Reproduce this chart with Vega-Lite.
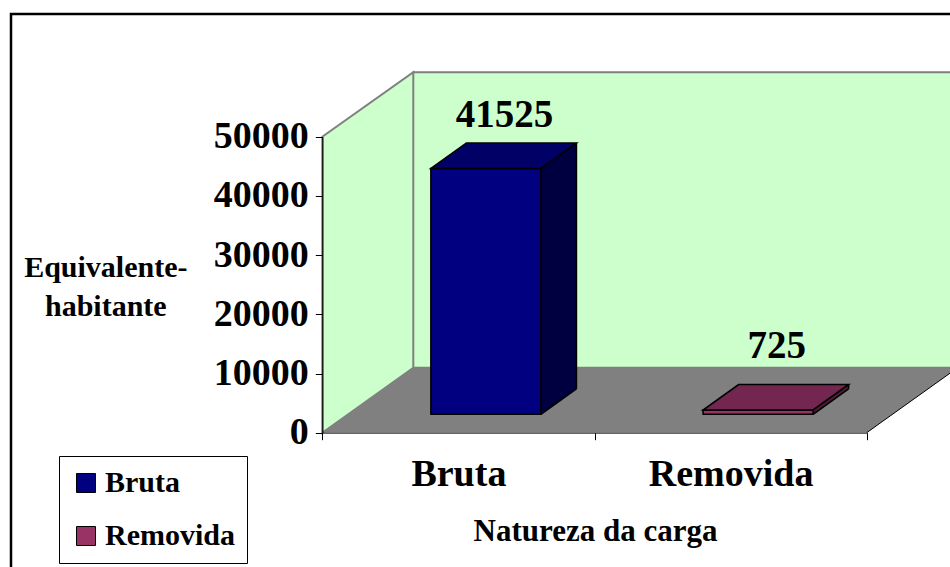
{
  "$schema": "https://vega.github.io/schema/vega-lite/v6.json",
  "width": 941,
  "height": 555,
  "autosize": {"type": "none"},
  "padding": {"left": 11, "top": 14, "right": -2, "bottom": -2},
  "background": "white",
  "config": {
    "view": {"stroke": "black", "strokeWidth": 2.5},
    "font": "Liberation Serif"
  },
  "data": {
    "values": [
      {"carga": "Bruta", "valor": 41525},
      {"carga": "Removida", "valor": 725}
    ]
  },
  "encoding": {
    "x": {
      "field": "carga",
      "type": "nominal",
      "sort": ["Bruta", "Removida"],
      "scale": {"range": [311.3, 855.7], "paddingInner": 0, "paddingOuter": 0},
      "axis": {
        "orient": "bottom",
        "offset": -136.3,
        "zindex": 1,
        "labelAngle": 0,
        "tickBand": "extent",
        "tickSize": 7,
        "tickColor": "black",
        "domainColor": "#222222",
        "domainWidth": 1,
        "labelFont": "Liberation Serif",
        "labelFontWeight": "bold",
        "labelFontSize": 38,
        "labelColor": "black",
        "labelPadding": 16,
        "title": "Natureza da carga",
        "titleFont": "Liberation Serif",
        "titleFontWeight": "bold",
        "titleFontSize": 31,
        "titleColor": "black",
        "titleX": 584,
        "titleY": 108,
        "titleAlign": "center",
        "titleBaseline": "alphabetic"
      }
    },
    "y": {
      "field": "valor",
      "type": "quantitative",
      "scale": {"domain": [0, 50000], "range": [418.7, 122.7], "nice": false},
      "axis": {
        "orient": "left",
        "offset": -311.3,
        "zindex": 1,
        "values": [0, 10000, 20000, 30000, 40000, 50000],
        "format": "d",
        "grid": false,
        "tickSize": 7,
        "tickColor": "black",
        "domainColor": "black",
        "domainWidth": 1.2,
        "labelFont": "Liberation Serif",
        "labelFontWeight": "bold",
        "labelFontSize": 38,
        "labelColor": "black",
        "labelPadding": 7,
        "title": ["Equivalente-", "habitante"],
        "titleFont": "Liberation Serif",
        "titleFontWeight": "bold",
        "titleFontSize": 30,
        "titleColor": "black",
        "titleAngle": 0,
        "titleX": -217,
        "titleY": 262,
        "titleAlign": "center",
        "titleBaseline": "alphabetic",
        "titleLineHeight": 39
      }
    }
  },
  "layer": [
    {
      "transform": [{"filter": "datum.carga === 'Bruta'"}],
      "mark": {
        "type": "point",
        "shape": "M-136.1,0 L-136.1,-296 L-45.1,-360.4 L-45.1,-65 Z M-45.1,-65 L-45.1,-360.4 L530,-360.4 L530,-65 Z",
        "size": 4,
        "filled": true,
        "fill": "#CCFFCC",
        "stroke": "#808080",
        "strokeWidth": 2,
        "opacity": 1
      },
      "encoding": {"y": {"datum": 0, "type": "quantitative"}}
    },
    {
      "transform": [{"filter": "datum.carga === 'Bruta'"}],
      "mark": {
        "type": "point",
        "shape": "M-136.1,0 L408.3,0 L499.3,-65 L-45.1,-65 Z",
        "size": 4,
        "filled": true,
        "fill": "#808080",
        "opacity": 1
      },
      "encoding": {"y": {"datum": 0, "type": "quantitative"}}
    },
    {
      "transform": [{"filter": "datum.carga === 'Bruta'"}],
      "mark": {
        "type": "point",
        "shape": "M408.3,0 L499.3,-65",
        "size": 4,
        "filled": false,
        "stroke": "black",
        "strokeWidth": 1,
        "opacity": 1
      },
      "encoding": {"y": {"datum": 0, "type": "quantitative"}}
    },
    {
      "mark": {
        "type": "bar",
        "width": 35.5,
        "xOffset": 100.25,
        "yOffset": -43.9,
        "y2Offset": -18.4,
        "opacity": 1
      },
      "encoding": {
        "y2": {"datum": 0},
        "fill": {"condition": {"test": "datum.carga === 'Bruta'", "value": "#000040"}, "value": "#4D1A33"}
      }
    },
    {
      "mark": {
        "type": "point",
        "shape": "M53.6,1 L92,1 L92,-26.6 Z",
        "size": 4,
        "filled": true,
        "fill": "#808080",
        "xOffset": 27.5,
        "yOffset": -18.4,
        "opacity": 1
      },
      "encoding": {"y": {"datum": 0, "type": "quantitative"}}
    },
    {
      "mark": {
        "type": "bar",
        "width": 110,
        "xOffset": 27.5,
        "yOffset": -18.4,
        "y2Offset": -18.4,
        "stroke": "black",
        "strokeWidth": 1.6,
        "opacity": 1
      },
      "encoding": {
        "y2": {"datum": 0},
        "color": {
          "field": "carga",
          "type": "nominal",
          "scale": {"domain": ["Bruta", "Removida"], "range": ["#000080", "#993366"]},
          "legend": {
            "orient": "none",
            "legendX": 48,
            "legendY": 442,
            "title": null,
            "symbolType": "square",
            "symbolSize": 361,
            "symbolStrokeColor": "black",
            "symbolStrokeWidth": 1,
            "labelFont": "Liberation Serif",
            "labelFontWeight": "bold",
            "labelFontSize": 30,
            "labelColor": "black",
            "labelOffset": 4,
            "labelLimit": 300,
            "rowPadding": 23,
            "padding": 12,
            "strokeColor": "black",
            "fillColor": "white"
          }
        }
      }
    },
    {
      "mark": {
        "type": "point",
        "shape": "M-55,0 L55,0 L90.5,-25.5 L-19.5,-25.5 Z",
        "size": 4,
        "filled": true,
        "stroke": "black",
        "strokeWidth": 1.6,
        "xOffset": 27.5,
        "yOffset": -18.4,
        "opacity": 1
      },
      "encoding": {
        "fill": {"condition": {"test": "datum.carga === 'Bruta'", "value": "#000066"}, "value": "#732650"}
      }
    },
    {
      "mark": {
        "type": "rule",
        "xOffset": 118,
        "yOffset": -43.9,
        "y2Offset": -43.9,
        "stroke": "black",
        "strokeWidth": 1.6
      },
      "encoding": {"y2": {"datum": 0}}
    },
    {
      "mark": {
        "type": "point",
        "shape": "M55,0 L90.5,-25.5",
        "size": 4,
        "filled": false,
        "stroke": "black",
        "strokeWidth": 1.6,
        "xOffset": 27.5,
        "yOffset": -18.4,
        "opacity": 1
      },
      "encoding": {"y": {"datum": 0, "type": "quantitative"}}
    },
    {
      "transform": [{"filter": "datum.carga === 'Bruta'"}],
      "mark": {
        "type": "text",
        "font": "Liberation Serif",
        "fontWeight": "bold",
        "fontSize": 39,
        "color": "black",
        "align": "center",
        "baseline": "alphabetic",
        "dx": 46.1,
        "dy": -59.4
      },
      "encoding": {"text": {"field": "valor", "type": "nominal"}}
    },
    {
      "transform": [{"filter": "datum.carga === 'Removida'"}],
      "mark": {
        "type": "text",
        "font": "Liberation Serif",
        "fontWeight": "bold",
        "fontSize": 39,
        "color": "black",
        "align": "center",
        "baseline": "alphabetic",
        "dx": 46.2,
        "dy": -70.1
      },
      "encoding": {"text": {"field": "valor", "type": "nominal"}}
    }
  ]
}
